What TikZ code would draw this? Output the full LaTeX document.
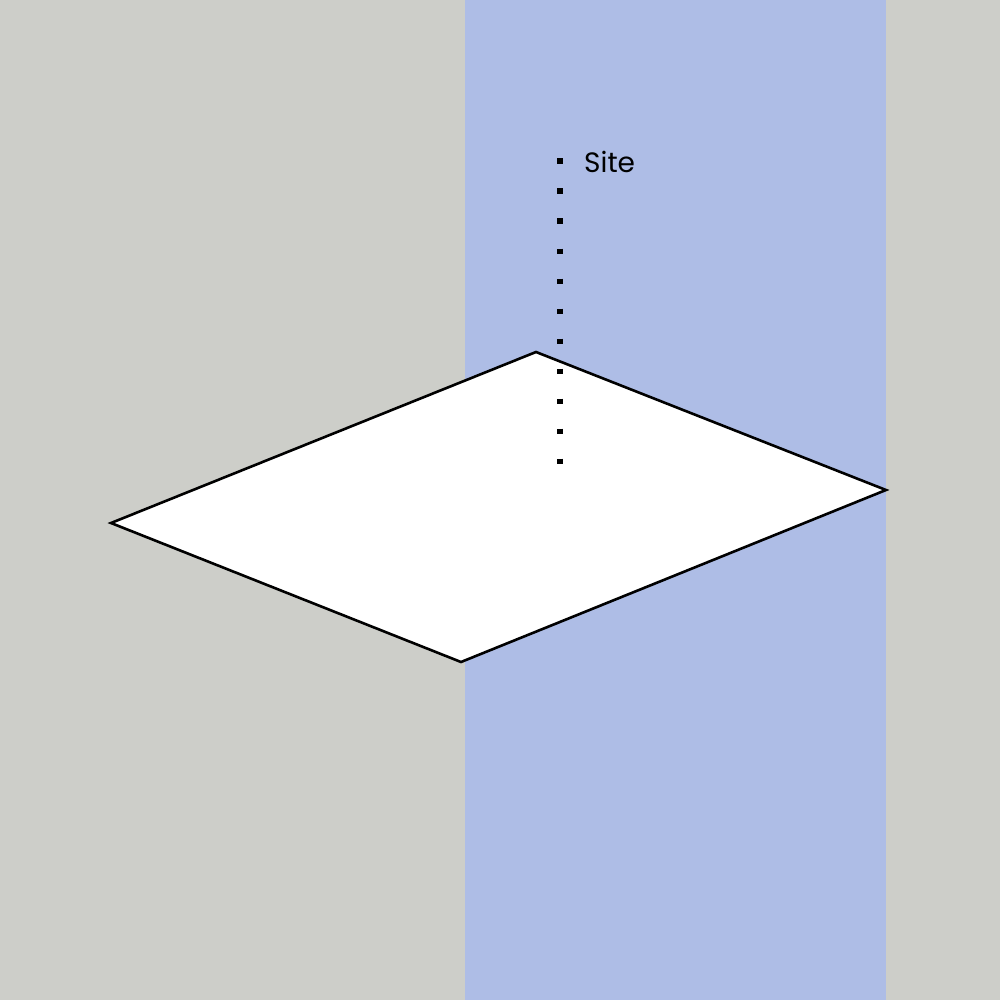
\documentclass[tikz,border=0pt]{standalone}
\usepackage{fontspec}
\setmainfont{Poppins}
\definecolor{bggray}{HTML}{CDCEC9}
\definecolor{bandblue}{HTML}{AEBDE6}
\begin{document}
\begin{tikzpicture}[x=1pt,y=-1pt,
  site/.style={draw=black,fill=white,line width=2.6pt,line join=miter},
  dots/.style={line width=5.5pt,dash pattern=on 5.5pt off 24.5pt,black}]
\useasboundingbox (0,0) rectangle (1000,1000);
\fill[bggray] (0,0) rectangle (1000,1000);
\fill[bandblue] (465,0) rectangle (886,1000);
\coordinate (L) at (111,523);
\coordinate (T) at (536,352);
\coordinate (R) at (886,490);
\coordinate (B) at (461,662);
\draw[site] (L) -- (T) -- (R) -- (B) -- cycle;
\coordinate (d0) at (560,158.5);
\coordinate (d1) at (560,466);
\draw[dots] (d0) -- (d1);
\node[anchor=west,inner sep=0pt,font=\fontsize{28}{30}\selectfont] (lab) at (584,162) {Site};
\end{tikzpicture}
\end{document}
